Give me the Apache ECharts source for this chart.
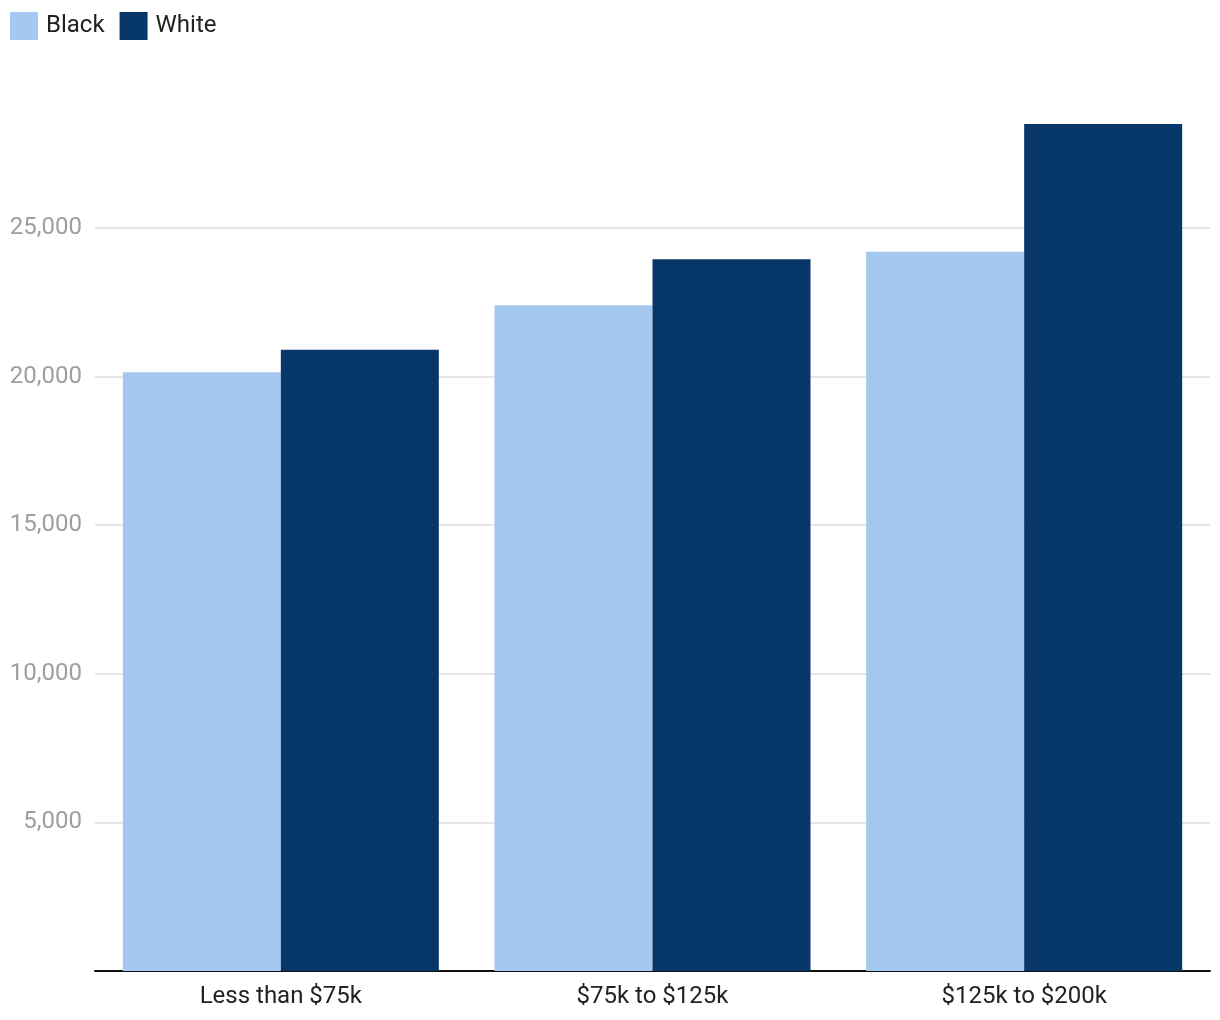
<!DOCTYPE html>
<html>
<head>
<meta charset="utf-8">
<script src="https://cdn.jsdelivr.net/npm/echarts@6/dist/echarts.min.js"></script>
<style>
  html, body { margin: 0; padding: 0; background: #fff; }
  #chart { width: 1220px; height: 1020px; }
</style>
</head>
<body>
<div id="chart"></div>
<script>
const categories = ['Less than $75k', '$75k to $125k', '$125k to $200k']
const blackValues = [20150, 22400, 24200]
const whiteValues = [20900, 23950, 28500]
const seriesNames = ['Black', 'White']

const myChart = echarts.init(document.getElementById('chart'))
myChart.setOption({
  animation: false,
  textStyle: { fontFamily: 'Roboto' },
  legend: {
    left: 10,
    top: 12,
    padding: 0,
    itemWidth: 28,
    itemHeight: 28,
    itemGap: 15,
    icon: 'rect',
    textStyle: { fontSize: 24, color: '#222', padding: [4, 0, 0, 3] },
    data: seriesNames
  },
  grid: {
    left: 95,
    right: 10,
    top: 79.4,
    bottom: 49
  },
  xAxis: {
    type: 'category',
    data: categories,
    axisLine: { lineStyle: { color: '#111', width: 2 } },
    axisTick: { show: false },
    axisLabel: { fontSize: 24, color: '#222', margin: 14 }
  },
  yAxis: {
    type: 'value',
    min: 0,
    max: 30000,
    interval: 5000,
    axisLine: { show: false },
    axisTick: { show: false },
    axisLabel: {
      fontSize: 24,
      color: '#9e9e9e',
      margin: 13,
      padding: [4, 0, 0, 0],
      showMinLabel: false,
      showMaxLabel: false,
      formatter: v => v.toLocaleString('en-US')
    },
    splitLine: {
      showMaxLine: false,
      lineStyle: { color: '#e6e6e6', width: 2 }
    }
  },
  series: [
    {
      name: seriesNames[0],
      type: 'bar',
      data: blackValues,
      barWidth: 158,
      barGap: '0%',
      itemStyle: { color: '#a5c8f0' }
    },
    {
      name: seriesNames[1],
      type: 'bar',
      data: whiteValues,
      barWidth: 158,
      barGap: '0%',
      itemStyle: { color: '#073768' }
    }
  ]
})
</script>
</body>
</html>
